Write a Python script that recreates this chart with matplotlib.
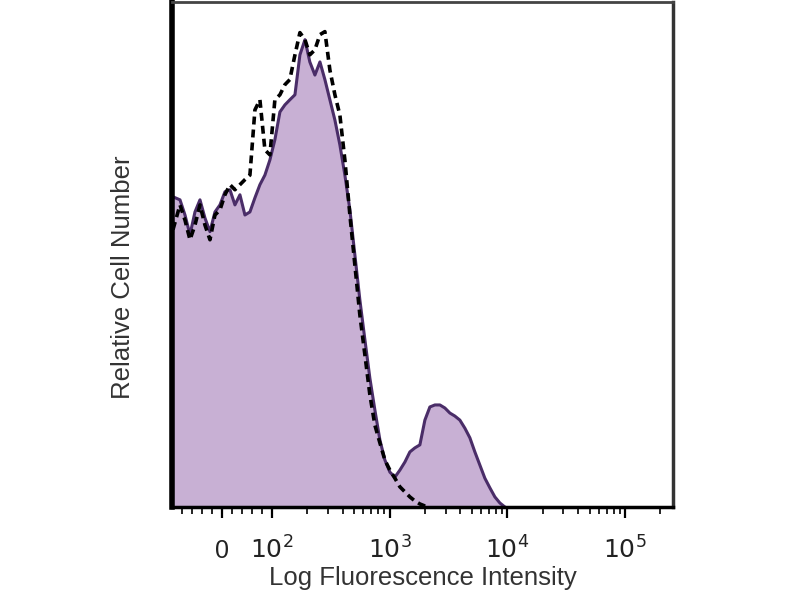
import numpy as np
import matplotlib
matplotlib.use("Agg")
import matplotlib.pyplot as plt

plt.rcParams['font.family'] = ['Liberation Sans', 'DejaVu Sans']

# fluorescence intensity (bin centres) for the stained sample
stained_x = [-98, -84, -74, -64, -54, -44, -34, -24, -14, -4, 6, 16, 26, 36, 46, 56, 66, 76, 86, 96,
             106, 117, 129, 142, 157, 173, 191, 210, 232, 256, 282, 311, 343, 378, 417, 460, 507,
             559, 617, 680, 750, 827, 912, 1006, 1109, 1223, 1349, 1487, 1640, 1809, 1995, 2200,
             2426, 2675, 2950, 3253, 3588, 3956, 4363, 4811, 5305, 5850, 6451, 7114, 7845, 8651, 9540]
stained_y = [61.4, 60.8, 57.8, 53.9, 58.4, 60.8, 57.2, 54.5, 58.4, 59.8, 62.4, 62.8, 59.8, 61.8, 57.8,
             58.4, 61.2, 63.8, 65.7, 68.7, 72.7, 78.2, 79.6, 80.6, 81.6, 89.5, 92.5, 88.1, 85.5, 88.1,
             84.6, 80.6, 76.6, 71.7, 65.7, 58.8, 49.9, 41.0, 33.1, 25.5, 19.2, 13.3, 9.3, 6.9, 5.9,
             7.3, 8.9, 10.9, 11.7, 12.3, 17.2, 19.8, 20.2, 20.2, 19.6, 18.6, 18.0, 17.2, 15.6, 13.7,
             10.9, 8.3, 5.7, 3.8, 2.0, 0.8, 0.0]

# isotype control (dashed)
control_x = [-98, -84, -74, -64, -54, -44, -34, -24, -14, -4, 6, 16, 26, 36, 46, 56, 66, 76, 86, 96,
             106, 117, 129, 142, 157, 173, 191, 210, 232, 256, 282, 311, 343, 378, 417, 460, 507,
             559, 617, 680, 750, 827, 912, 1006, 1109, 1223, 1349, 1487, 1640, 1809, 1995, 2200]
control_y = [54.9, 59.8, 56.8, 52.9, 55.8, 59.8, 55.8, 52.9, 57.8, 58.8, 61.8, 63.8, 62.8, 63.8, 64.8,
             65.7, 78.6, 80.6, 70.7, 69.7, 80.6, 81.6, 83.6, 84.6, 89.5, 93.9, 92.5, 89.5, 90.5, 93.5,
             94.1, 86.5, 81.6, 77.6, 68.7, 57.8, 47.9, 38.0, 30.1, 22.2, 16.2, 12.7, 9.3, 7.3, 5.7,
             4.0, 3.0, 2.0, 1.2, 0.6, 0.2, 0.0]

major_ticks = [0, 100, 1000, 10000, 100000]
major_labels = ['0', '$10^2$', '$10^3$', '$10^4$', '$10^5$']

fig = plt.figure(figsize=(8, 6), dpi=100)
ax = fig.add_axes([0.215, 0.155, 0.626, 0.842])

ax.set_xscale('symlog', linthresh=100, linscale=0.382)
ax.fill_between(stained_x, stained_y, 0, color='#c8b0d4', lw=0)
ax.plot(stained_x, stained_y, color='#4a2d68', lw=2.2)
ax.plot(control_x, control_y, color='black', lw=2.6, ls=(0, (2.2, 1.4)))

ax.set_xlim(-100, 255000)
ax.set_ylim(0, 100)

ax.set_xticks(major_ticks)
ax.set_xticklabels(major_labels, fontsize=18, color='#222222')
minor = [-80, -60, -40, -20, 20, 40, 60, 80]
for d in [100, 1000, 10000, 100000]:
    minor += [d * k for k in range(2, 10) if d * k < 255000]
ax.set_xticks(minor, minor=True)
ax.tick_params(axis='x', which='major', length=8, width=1.6, direction='out', pad=29)
ax.tick_params(axis='x', which='minor', length=5, width=1.2, direction='out')
plt.setp(ax.get_xticklabels(), va='baseline')
ax.set_yticks([])

ax.spines['left'].set_linewidth(4)
ax.spines['bottom'].set_linewidth(2.5)
ax.spines['top'].set_linewidth(2)
ax.spines['right'].set_linewidth(2.5)
ax.spines['top'].set_color('#444444')
ax.spines['right'].set_color('#333333')

ax.set_xlabel('Log Fluorescence Intensity', fontsize=18.5, color='#333333', labelpad=2)
ax.set_ylabel('Relative Cell Number', fontsize=18.5, color='#333333')
ax.yaxis.set_label_coords(-0.074, 0.455)

fig.savefig('out.png', dpi=100)
